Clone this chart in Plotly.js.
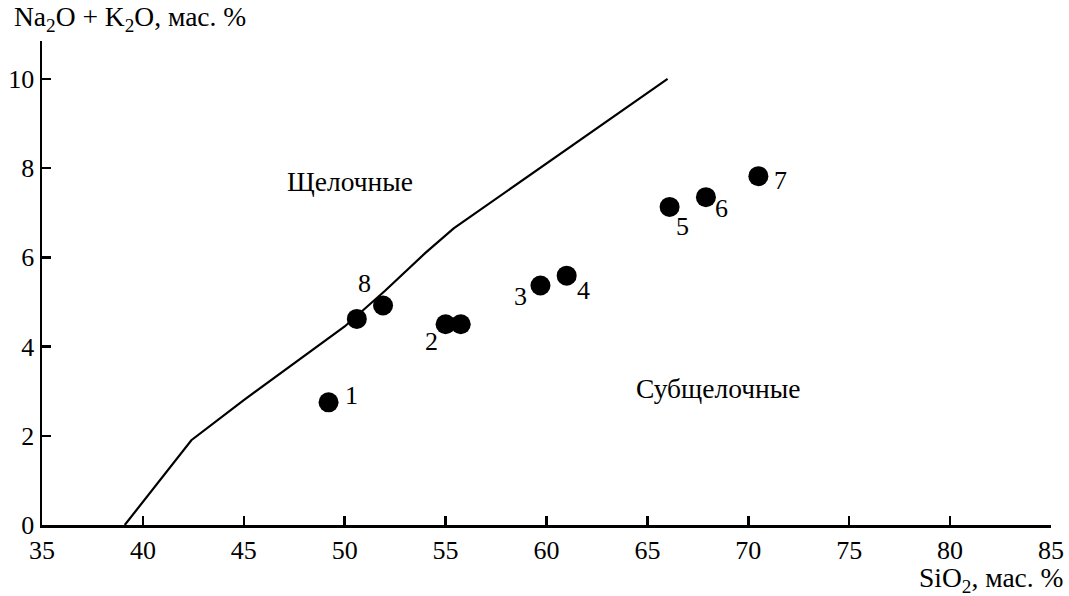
<!DOCTYPE html>
<html>
<head>
<meta charset="utf-8">
<script src="https://cdn.plot.ly/plotly-3.0.1.min.js"></script>
<style>html,body{margin:0;padding:0;background:#fff;}#chart{width:1069px;height:596px;}</style>
</head>
<body>
<div id="chart"></div>
<script>
// Boundary line (alkaline / subalkaline divide)
const boundarySiO2 = [39.1, 42.4, 45.0, 48.0, 50.0, 52.0, 54.0, 55.4, 60.0, 66.0];
const boundaryAlk  = [0.0, 1.9, 2.8, 3.8, 4.45, 5.25, 6.1, 6.65, 8.1, 10.0];

// Samples
const sampleSiO2 = [49.2, 50.6, 51.9, 55.0, 55.75, 59.7, 61.0, 66.1, 67.9, 70.5];
const sampleAlk  = [2.75, 4.62, 4.92, 4.5, 4.5, 5.37, 5.59, 7.13, 7.35, 7.82];
const sampleLabels = ["1", "8", "", "2", "", "3", "4", "5", "6", "7"];

// Tick values
const xTicks = [35, 40, 45, 50, 55, 60, 65, 70, 75, 80, 85];
const yTicks = [0, 2, 4, 6, 8, 10];

// Field names
const fieldNames = ["Щелочные", "Субщелочные"];
const fieldSiO2 = [50.26, 68.5];
const fieldAlk = [7.7, 3.07];

// label offsets in pixels (style)
const labelShift = {
  "1": [23, 7], "8": [8, 35], "2": [-14, -17], "3": [-20, -11],
  "4": [17, -15], "5": [13, -20], "6": [16, -11], "7": [22, -4]
};

const FONT = "'Liberation Serif', 'Times New Roman', 'DejaVu Serif', serif";
const FS = 26;
const FT = 27.5;

const traces = [
  {x: boundarySiO2, y: boundaryAlk, mode: "lines", type: "scatter",
   line: {color: "#000", width: 2.2}, hoverinfo: "skip"},
  {x: sampleSiO2, y: sampleAlk, mode: "markers", type: "scatter",
   marker: {color: "#000", size: 20, line: {width: 0}}}
];

const annotations = [];
sampleLabels.forEach((t, i) => {
  if (!t) return;
  const s = labelShift[t];
  annotations.push({x: sampleSiO2[i], y: sampleAlk[i], xref: "x", yref: "y",
    text: t, showarrow: false, xshift: s[0], yshift: s[1],
    font: {family: FONT, size: FS, color: "#000"}});
});
fieldNames.forEach((t, i) => {
  annotations.push({x: fieldSiO2[i], y: fieldAlk[i], xref: "x", yref: "y",
    text: t, showarrow: false, font: {family: FONT, size: FT, color: "#000"}});
});
annotations.push({x: 0, y: 1, xref: "paper", yref: "paper", xanchor: "left", yanchor: "bottom",
  xshift: -30, yshift: 3, showarrow: false,
  text: "Na<sub>2</sub>O + K<sub>2</sub>O, мас. %", font: {family: FONT, size: FT, color: "#000"}});
annotations.push({x: 1, y: 0, xref: "paper", yref: "paper", xanchor: "right", yanchor: "top",
  xshift: 14, yshift: -35, showarrow: false,
  text: "SiO<sub>2</sub>, мас. %", font: {family: FONT, size: FT, color: "#000"}});

const layout = {
  width: 1069, height: 596,
  margin: {l: 42, r: 18, t: 41, b: 71},
  paper_bgcolor: "#fff", plot_bgcolor: "#fff",
  showlegend: false,
  font: {family: FONT, size: FS, color: "#000"},
  xaxis: {range: [35, 85], tickvals: xTicks, ticktext: xTicks.map(String),
    showgrid: false, zeroline: false, showline: true, linecolor: "#000", linewidth: 2.5,
    ticks: "inside", ticklen: 9, tickwidth: 2.5, tickcolor: "#000",
    tickfont: {family: FONT, size: FS, color: "#000"}, fixedrange: true},
  yaxis: {range: [0, 10.85], tickvals: yTicks, ticktext: yTicks.map(String),
    showgrid: false, zeroline: false, showline: true, linecolor: "#000", linewidth: 2.5,
    ticks: "inside", ticklen: 9, tickwidth: 2.5, tickcolor: "#000",
    tickfont: {family: FONT, size: FS, color: "#000"}, fixedrange: true},
  annotations: annotations
};

Plotly.newPlot("chart", traces, layout, {displayModeBar: false, staticPlot: true});
</script>
</body>
</html>
